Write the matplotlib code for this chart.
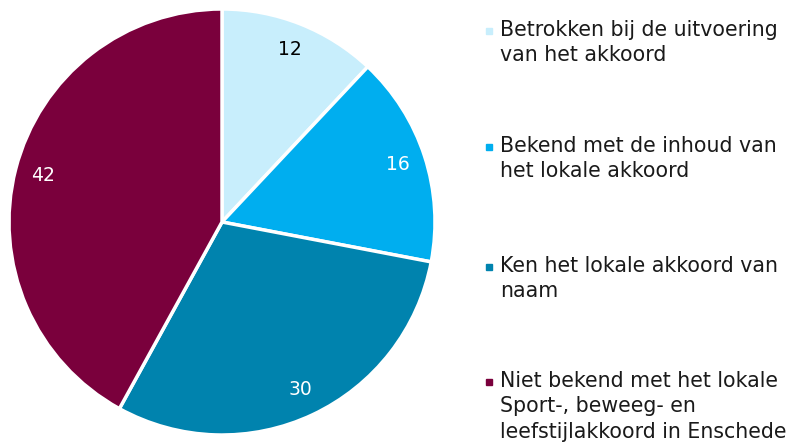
import matplotlib.pyplot as plt
from matplotlib.patches import Rectangle

LABELS = [
    "Betrokken bij de uitvoering\nvan het akkoord",
    "Bekend met de inhoud van\nhet lokale akkoord",
    "Ken het lokale akkoord van\nnaam",
    "Niet bekend met het lokale\nSport-, beweeg- en\nleefstijlakkoord in Enschede",
]
VALUES = [12, 16, 30, 42]
COLORS = ["#c8eefc", "#00aeef", "#0083ae", "#7a003c"]
TEXT_COLORS = ["black", "white", "white", "white"]

W, H = 792, 442
fig = plt.figure(figsize=(W / 100, H / 100), dpi=100)

# pie axes: center (222,222), radius 213 px
r = 213
cx, cy = 222, 222
ax = fig.add_axes([(cx - r) / W, (H - cy - r) / H, 2 * r / W, 2 * r / H])
wedges, texts = ax.pie(
    VALUES, colors=COLORS, startangle=90, counterclock=False,
    labels=[str(v) for v in VALUES], labeldistance=0.87,
    wedgeprops=dict(edgecolor="white", linewidth=2.5),
    textprops=dict(fontsize=13.5, family="DejaVu Sans"),
)
for t, c in zip(texts, TEXT_COLORS):
    t.set_color(c)
    t.set_ha("center")
    t.set_va("center")
ax.set_xlim(-1, 1)
ax.set_ylim(-1, 1)
ax.set_aspect("auto")

# legend drawn by hand
tops = [20, 136, 256, 371]
for lab, col, top in zip(LABELS, COLORS, tops):
    fig.text(500 / W, 1 - top / H, lab, fontsize=14.8, va="top", ha="left",
             linespacing=1.33, color="#1a1a1a")
    fig.patches.append(Rectangle((486 / W, 1 - (top + 14) / H), 6 / W, 6 / H,
                                 transform=fig.transFigure, color=col))

fig.savefig("out.png", dpi=100)
